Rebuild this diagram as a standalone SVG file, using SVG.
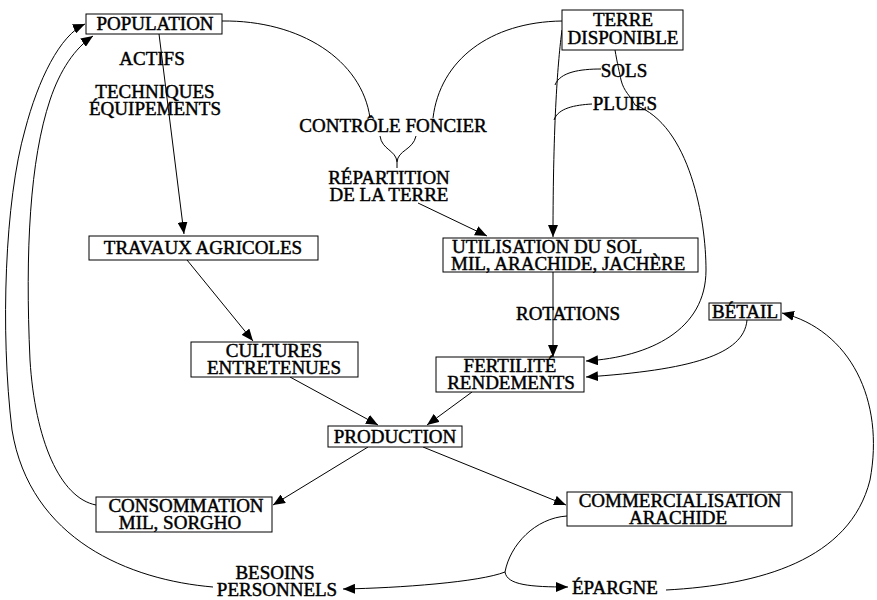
<svg xmlns="http://www.w3.org/2000/svg" width="877" height="600" viewBox="0 0 877 600">
<defs>
<style>
.t{font-family:"Liberation Serif","Times New Roman",serif;font-size:19px;fill:#000;stroke:#000;stroke-width:0.45;text-anchor:middle}
.s{text-anchor:start}
.b{fill:#fff;stroke:#000;stroke-width:1}
.c{fill:none;stroke:#000;stroke-width:1}
</style>
<marker id="a" markerUnits="userSpaceOnUse" markerWidth="13" markerHeight="10" refX="12" refY="5" orient="auto">
<path d="M0,0 L12,5 L0,10 z" fill="#000"/>
</marker>
</defs>
<rect width="877" height="600" fill="#fff"/>
<g id="connectors">
<path class="c" d="M159,34 L184,234" marker-end="url(#a)"/>
<path class="c" d="M222,21 C300,20 362,60 370,118"/>
<path class="c" d="M562,21 C490,22 440,60 433,118"/>
<path class="c" d="M380,136 C382,150 396,150 397,162 M416,136 C413,150 398,150 397,162 L397,168"/>
<path class="c" d="M418,203 L487,236" marker-end="url(#a)"/>
<path class="c" d="M562,30 C558,60 553,120 553,237" marker-end="url(#a)"/>
<path class="c" d="M555,85 C560,72 580,69 601,69"/>
<path class="c" d="M554,120 C558,108 575,105 592,104"/>
<path class="c" d="M615,50 C617,62 620,75 621,80 C624,92 630,95 635,105 C690,125 706,220 706,270 C706,330 650,357 586,361" marker-end="url(#a)"/>
<path class="c" d="M747,320 C744,355 690,370 586,377" marker-end="url(#a)"/>
<path class="c" d="M553,272 L553,357" marker-end="url(#a)"/>
<path class="c" d="M187,260 L253,341" marker-end="url(#a)"/>
<path class="c" d="M290,377 L378,425" marker-end="url(#a)"/>
<path class="c" d="M472,392 L427,425" marker-end="url(#a)"/>
<path class="c" d="M368,447 L273,505" marker-end="url(#a)"/>
<path class="c" d="M423,447 L566,505" marker-end="url(#a)"/>
<path class="c" d="M567,516 C535,518 510,545 505,572 C480,582 400,588 343,589" marker-end="url(#a)"/>
<path class="c" d="M505,572 C507,585 530,587 568,587" marker-end="url(#a)"/>
<path class="c" d="M213,587 C130,580 30,540 12,430 C0,330 5,200 25,130 C38,80 60,35 85,24" marker-end="url(#a)"/>
<path class="c" d="M96,505 C60,498 35,440 30,360 C25,250 30,160 50,100 C60,70 75,48 93,36" marker-end="url(#a)"/>
<path class="c" d="M666,590 C760,585 850,560 870,480 C885,400 850,330 782,313" marker-end="url(#a)"/>
</g>
<g id="population"><rect class="b" x="86" y="14" width="136" height="20"/><text class="t" x="155" y="30">POPULATION</text></g>
<g id="actifs"><text class="t" x="152" y="65">ACTIFS</text></g>
<g id="techniques"><text class="t" x="155" y="98">TECHNIQUES</text><text class="t" x="155" y="115">ÉQUIPEMENTS</text></g>
<g id="terre"><rect class="b" x="562" y="10" width="121" height="40"/><text class="t" x="623" y="26">TERRE</text><text class="t" x="623" y="44">DISPONIBLE</text></g>
<g id="sols"><text class="t" x="624" y="77">SOLS</text></g>
<g id="pluies"><text class="t" x="625" y="110">PLUIES</text></g>
<g id="controle"><text class="t" x="393" y="132">CONTRÔLE FONCIER</text></g>
<g id="repartition"><text class="t" x="389" y="184">RÉPARTITION</text><text class="t" x="389" y="201">DE LA TERRE</text></g>
<g id="travaux"><rect class="b" x="89" y="236" width="229" height="24"/><text class="t" x="203" y="254">TRAVAUX AGRICOLES</text></g>
<g id="utilisation"><rect class="b" x="443" y="238" width="255" height="34"/><text class="t s" x="452" y="253">UTILISATION DU SOL</text><text class="t s" x="451" y="270">MIL, ARACHIDE, JACHÈRE</text></g>
<g id="rotations"><text class="t" x="568" y="320">ROTATIONS</text></g>
<g id="betail"><rect class="b" x="709" y="303" width="72" height="17"/><text class="t" x="745" y="318">BÉTAIL</text></g>
<g id="cultures"><rect class="b" x="191" y="342" width="167" height="35"/><text class="t" x="274" y="357">CULTURES</text><text class="t" x="274" y="374">ENTRETENUES</text></g>
<g id="fertilite"><rect class="b" x="436" y="357" width="148" height="35"/><text class="t" x="510" y="372">FERTILITÉ</text><text class="t" x="511" y="389">RENDEMENTS</text></g>
<g id="production"><rect class="b" x="328" y="426" width="134" height="21"/><text class="t" x="395" y="443">PRODUCTION</text></g>
<g id="consommation"><rect class="b" x="96" y="497" width="176" height="35"/><text class="t" x="186" y="512">CONSOMMATION</text><text class="t" x="180" y="529">MIL, SORGHO</text></g>
<g id="commercialisation"><rect class="b" x="567" y="492" width="225" height="34"/><text class="t" x="680" y="507">COMMERCIALISATION</text><text class="t" x="678" y="524">ARACHIDE</text></g>
<g id="besoins"><text class="t" x="275" y="579">BESOINS</text><text class="t" x="277" y="596">PERSONNELS</text></g>
<g id="epargne"><text class="t s" x="572" y="594">ÉPARGNE</text></g>
</svg>
